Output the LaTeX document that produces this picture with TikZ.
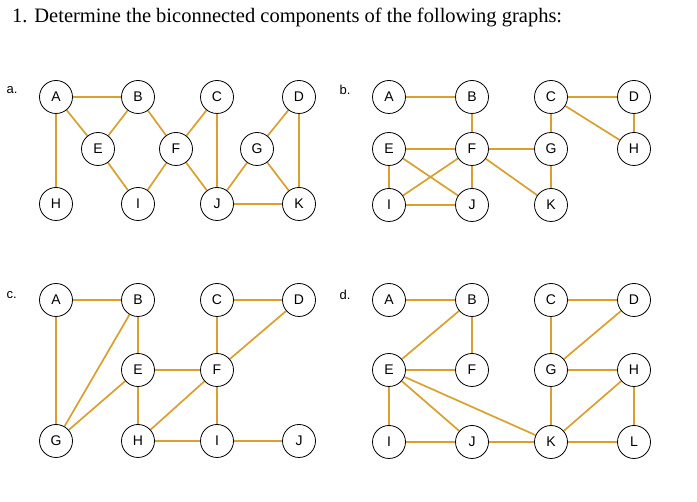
\documentclass[tikz,border=0pt]{standalone}
\usepackage{fontspec}
\setmainfont{Liberation Serif}
\newfontfamily\nodefont{Liberation Sans}
\usetikzlibrary{backgrounds}
\definecolor{edge}{HTML}{D9A030}
\begin{document}
\begin{tikzpicture}[x=1pt,y=-1pt,
  v/.style={circle,draw=black,line width=0.8pt,fill=white,minimum size=33pt,inner sep=0pt,font=\nodefont\fontsize{14}{14}\selectfont},
  e/.style={draw=edge,line width=1.7pt},
  lab/.style={anchor=west,font=\nodefont\fontsize{13}{13}\selectfont}]
\useasboundingbox (0,0) rectangle (697,502);
\node[anchor=west,font=\fontsize{20.5}{20.5}\selectfont,inner sep=0pt] (title) at (12,18) {1. Determine the biconnected components of the following graphs:};
% a
\node[lab] (la) at (3,90) {a.};
\node[v] (aA) at (56,97) {A}; \node[v] (aB) at (138,97) {B}; \node[v] (aC) at (217,97) {C}; \node[v] (aD) at (299,97) {D};
\node[v] (aE) at (98,149) {E}; \node[v] (aF) at (176,149) {F}; \node[v] (aG) at (257,149) {G};
\node[v] (aH) at (56,204) {H}; \node[v] (aI) at (138,204) {I}; \node[v] (aJ) at (217,204) {J}; \node[v] (aK) at (299,204) {K};
% b
\node[lab] (lb) at (336,90) {b.};
\node[v] (bA) at (389,97) {A}; \node[v] (bB) at (472,97) {B}; \node[v] (bC) at (551,97) {C}; \node[v] (bD) at (634,97) {D};
\node[v] (bE) at (389,149) {E}; \node[v] (bF) at (472,149) {F}; \node[v] (bG) at (551,149) {G}; \node[v] (bH) at (634,149) {H};
\node[v] (bI) at (389,205) {I}; \node[v] (bJ) at (472,205) {J}; \node[v] (bK) at (551,205) {K};
% c
\node[lab] (lc) at (3,295) {c.};
\node[v] (cA) at (56,300) {A}; \node[v] (cB) at (138,300) {B}; \node[v] (cC) at (217,300) {C}; \node[v] (cD) at (299,300) {D};
\node[v] (cE) at (138,370) {E}; \node[v] (cF) at (217,370) {F};
\node[v] (cG) at (56,441) {G}; \node[v] (cH) at (138,441) {H}; \node[v] (cI) at (217,441) {I}; \node[v] (cJ) at (299,441) {J};
% d
\node[lab] (ld) at (336,295) {d.};
\node[v] (dA) at (389,300) {A}; \node[v] (dB) at (472,300) {B}; \node[v] (dC) at (551,300) {C}; \node[v] (dD) at (634,300) {D};
\node[v] (dE) at (389,370) {E}; \node[v] (dF) at (472,370) {F}; \node[v] (dG) at (551,370) {G}; \node[v] (dH) at (634,370) {H};
\node[v] (dI) at (389,442) {I}; \node[v] (dJ) at (472,442) {J}; \node[v] (dK) at (551,442) {K}; \node[v] (dL) at (634,442) {L};
\begin{pgfonlayer}{background}
\foreach \a/\b in {A/B,A/H,A/E,B/E,B/F,E/I,F/I,C/F,C/J,F/J,G/J,D/G,D/K,G/K,J/K}
  \draw[e] (a\a) -- (a\b);
\foreach \a/\b in {A/B,B/F,E/F,F/G,C/G,C/D,C/H,D/H,G/K,F/K,E/I,E/J,I/F,F/J,I/J}
  \draw[e] (b\a) -- (b\b);
\foreach \a/\b in {A/B,A/G,B/G,B/E,E/G,E/F,E/H,H/F,C/F,C/D,D/F,F/I,H/I,I/J}
  \draw[e] (c\a) -- (c\b);
\foreach \a/\b in {A/B,B/E,B/F,E/F,E/I,E/J,E/K,I/J,J/K,C/D,C/G,D/G,G/H,G/K,H/K,H/L,K/L}
  \draw[e] (d\a) -- (d\b);
\end{pgfonlayer}
\end{tikzpicture}
\end{document}
